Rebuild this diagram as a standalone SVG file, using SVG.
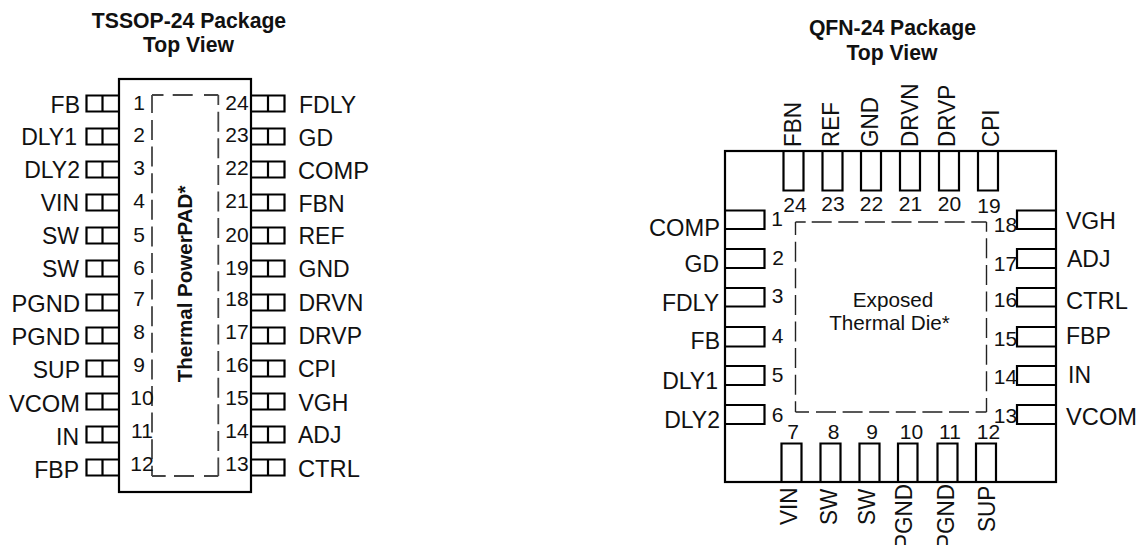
<svg xmlns="http://www.w3.org/2000/svg" width="1138" height="545" viewBox="0 0 1138 545">
<style>
text{font-family:"Liberation Sans",Arial,sans-serif;fill:#111}
.t{font-size:21.200px;font-weight:700;text-anchor:middle}
.l{font-size:23px}
.w{font-size:23.700px}
.r{font-size:24.500px}
.e{text-anchor:end}
.n{font-size:21px;text-anchor:middle}
.s{font-size:20.700px;text-anchor:middle}
.b{fill:none;stroke:#000;stroke-width:2.200}
.d{fill:none;stroke-dasharray:20 6.600}
.d1{stroke:#444;stroke-width:1.800}
.d2{stroke:#222;stroke-width:1.400}
</style>
<rect width="1138" height="545" fill="#fff"/>
<g id="tssop-title"><text class="t" x="189" y="28">TSSOP-24 Package</text><text class="t" x="188.500" y="52">Top View</text></g>
<g id="qfn-title"><text class="t" x="892.500" y="35">QFN-24 Package</text><text class="t" x="892" y="60">Top View</text></g>
<g id="tssop-body"><rect class="b" x="119" y="79" width="132" height="413"/><path class="d d1" d="M152 95V113M152 120V476M218.300 95V105M218.300 111.700V476M152 95H163.500M172.700 95H196M204 95H218.300M152 476H165.700M174 476H196.700M204 476H218.300"/><text font-size="20.500" font-weight="700" text-anchor="middle" transform="translate(191.700 284) rotate(-90)">Thermal PowerPAD*</text></g>
<g id="tssop-left-pins">
<path class="b" d="M119 95.500H86.500V111.500H119M102.500 95.500V111.500M119 128.500H86.500V144.500H119M102.500 128.500V144.500M119 161.500H86.500V177.500H119M102.500 161.500V177.500M119 194.500H86.500V210.500H119M102.500 194.500V210.500M119 227.500H86.500V243.500H119M102.500 227.500V243.500M119 260.500H86.500V276.500H119M102.500 260.500V276.500M119 294.500H86.500V310.500H119M102.500 294.500V310.500M119 327.500H86.500V343.500H119M102.500 327.500V343.500M119 360.500H86.500V376.500H119M102.500 360.500V376.500M119 393.500H86.500V409.500H119M102.500 393.500V409.500M119 426.500H86.500V442.500H119M102.500 426.500V442.500M119 459.500H86.500V475.500H119M102.500 459.500V475.500"/>
</g>
<g id="tssop-right-pins">
<path class="b" d="M251 95.500H284.500V111.500H251M268 95.500V111.500M251 128.500H284.500V144.500H251M268 128.500V144.500M251 161.500H284.500V177.500H251M268 161.500V177.500M251 194.500H284.500V210.500H251M268 194.500V210.500M251 227.500H284.500V243.500H251M268 227.500V243.500M251 260.500H284.500V276.500H251M268 260.500V276.500M251 294.500H284.500V310.500H251M268 294.500V310.500M251 327.500H284.500V343.500H251M268 327.500V343.500M251 360.500H284.500V376.500H251M268 360.500V376.500M251 393.500H284.500V409.500H251M268 393.500V409.500M251 426.500H284.500V442.500H251M268 426.500V442.500M251 459.500H284.500V475.500H251M268 459.500V475.500"/>
</g>
<g id="tssop-left-labels">
<text class="l e" x="80" y="113">FB</text><text class="l e" x="77" y="145">DLY1</text><text class="l e" x="80" y="178">DLY2</text><text class="l e" x="79" y="211">VIN</text><text class="l e" x="79" y="243.500">SW</text><text class="l e" x="79" y="277">SW</text><text class="w e" x="80" y="311.500">PGND</text><text class="w e" x="80" y="344.500">PGND</text><text class="l e" x="80" y="378">SUP</text><text class="w e" x="80" y="411.500">VCOM</text><text class="l e" x="79" y="445">IN</text><text class="l e" x="79" y="478">FBP</text>
</g>
<g id="tssop-right-labels">
<text class="l" x="299" y="113">FDLY</text><text class="l" x="298.500" y="145.500">GD</text><text class="w" x="298" y="179">COMP</text><text class="l" x="298.500" y="211.500">FBN</text><text class="l" x="298.500" y="244">REF</text><text class="l" x="298.500" y="277">GND</text><text class="l" x="298.500" y="310.500">DRVN</text><text class="l" x="298.500" y="344">DRVP</text><text class="l" x="298" y="377">CPI</text><text class="l" x="298.500" y="410.500">VGH</text><text class="l" x="298" y="443">ADJ</text><text class="w" x="298" y="476.500">CTRL</text>
</g>
<g id="tssop-left-numbers">
<text class="n" x="139" y="110">1</text><text class="n" x="139" y="142">2</text><text class="n" x="139" y="175">3</text><text class="n" x="139" y="208">4</text><text class="n" x="139" y="242">5</text><text class="n" x="139" y="275">6</text><text class="n" x="139" y="306">7</text><text class="n" x="139" y="339">8</text><text class="n" x="139" y="372">9</text><text class="n" x="142" y="405">10</text><text class="n" x="142" y="438">11</text><text class="n" x="142" y="471">12</text>
</g>
<g id="tssop-right-numbers">
<text class="n" x="237" y="110">24</text><text class="n" x="237" y="142">23</text><text class="n" x="237" y="175">22</text><text class="n" x="237" y="208">21</text><text class="n" x="237" y="242">20</text><text class="n" x="237" y="275">19</text><text class="n" x="237" y="306">18</text><text class="n" x="237" y="339">17</text><text class="n" x="237" y="372">16</text><text class="n" x="237" y="405">15</text><text class="n" x="237" y="438">14</text><text class="n" x="237" y="471">13</text>
</g>
<g id="qfn-body"><rect class="b" x="725" y="151" width="331" height="331"/><path class="d d2" d="M795.500 222V235M795.500 241.700V412M986.500 222V231.700M986.500 238.300V412M795.500 222H805.700M811.700 222H986.500M795.500 412H809M816 412H986.500"/><text class="s" x="893" y="307">Exposed</text><text class="s" x="889.500" y="330">Thermal Die*</text></g>
<g id="qfn-top-pins">
<path class="b" d="M783.500 151V190.500H803.500V151M822.500 151V190.500H842.500V151M861 151V190.500H881V151M900 151V190.500H920V151M939 151V190.500H959V151M978 151V190.500H998V151"/>
</g>
<g id="qfn-bottom-pins">
<path class="b" d="M781.500 482V443.500H801.500V482M820.500 482V443.500H840.500V482M859.500 482V443.500H879.500V482M898 482V443.500H917.500V482M937.500 482V443.500H957.500V482M976 482V443.500H996V482"/>
</g>
<g id="qfn-left-pins">
<path class="b" d="M725 210.500H764.500V229H725M725 249H764.500V268H725M725 288H764.500V306.500H725M725 327H764.500V346.500H725M725 366H764.500V385H725M725 405H764.500V424H725"/>
</g>
<g id="qfn-right-pins">
<path class="b" d="M1056 210.500H1017V229H1056M1056 249H1017V268H1056M1056 288H1017V306.500H1056M1056 327H1017V346.500H1056M1056 366H1017V385H1056M1056 405H1017V424H1056"/>
</g>
<g id="qfn-top-labels">
<text class="r" transform="translate(801 147) rotate(-90) scale(.92 1)">FBN</text><text class="r" transform="translate(839 147) rotate(-90) scale(.92 1)">REF</text><text class="r" transform="translate(878 147) rotate(-90) scale(.92 1)">GND</text><text class="r" transform="translate(917.500 147) rotate(-90) scale(.92 1)">DRVN</text><text class="r" transform="translate(955 147) rotate(-90) scale(.92 1)">DRVP</text><text class="r" transform="translate(999 147) rotate(-90) scale(.92 1)">CPI</text>
</g>
<g id="qfn-bottom-labels">
<text class="r" transform="translate(797 525) rotate(-90) scale(.92 1)">VIN</text><text class="r" transform="translate(836.500 525) rotate(-90) scale(.92 1)">SW</text><text class="r" transform="translate(875 525) rotate(-90) scale(.92 1)">SW</text><text class="r" transform="translate(911.500 549) rotate(-90) scale(.92 1)">PGND</text><text class="r" transform="translate(954 549) rotate(-90) scale(.92 1)">PGND</text><text class="r" transform="translate(995 532) rotate(-90) scale(.92 1)">SUP</text>
</g>
<g id="qfn-left-labels">
<text class="w e" x="720" y="236">COMP</text><text class="l e" x="719" y="272">GD</text><text class="l e" x="719" y="311">FDLY</text><text class="l e" x="720" y="349">FB</text><text class="l e" x="718" y="389">DLY1</text><text class="l e" x="720" y="428">DLY2</text>
</g>
<g id="qfn-right-labels">
<text class="l" x="1066" y="228.500">VGH</text><text class="l" x="1067" y="266.500">ADJ</text><text class="w" x="1066" y="309">CTRL</text><text class="l" x="1066" y="344">FBP</text><text class="l" x="1068" y="383">IN</text><text class="w" x="1066" y="425">VCOM</text>
</g>
<g id="qfn-numbers">
<text class="n" x="795" y="212">24</text><text class="n" x="833" y="211">23</text><text class="n" x="871.500" y="211">22</text><text class="n" x="910.500" y="211">21</text><text class="n" x="949.500" y="211">20</text><text class="n" x="989" y="213">19</text>
<text class="n" x="777" y="226">1</text><text class="n" x="778" y="265">2</text><text class="n" x="777.500" y="303">3</text><text class="n" x="777.500" y="343">4</text><text class="n" x="777.500" y="382">5</text><text class="n" x="777.500" y="422">6</text>
<text class="n" x="1005.500" y="232">18</text><text class="n" x="1005.500" y="271">17</text><text class="n" x="1005.500" y="307">16</text><text class="n" x="1005.500" y="346">15</text><text class="n" x="1005.500" y="384">14</text><text class="n" x="1005.500" y="423">13</text>
<text class="n" x="793" y="439">7</text><text class="n" x="833.500" y="439">8</text><text class="n" x="872" y="439">9</text><text class="n" x="911.500" y="439">10</text><text class="n" x="950" y="439">11</text><text class="n" x="988.500" y="439">12</text>
</g>
</svg>
